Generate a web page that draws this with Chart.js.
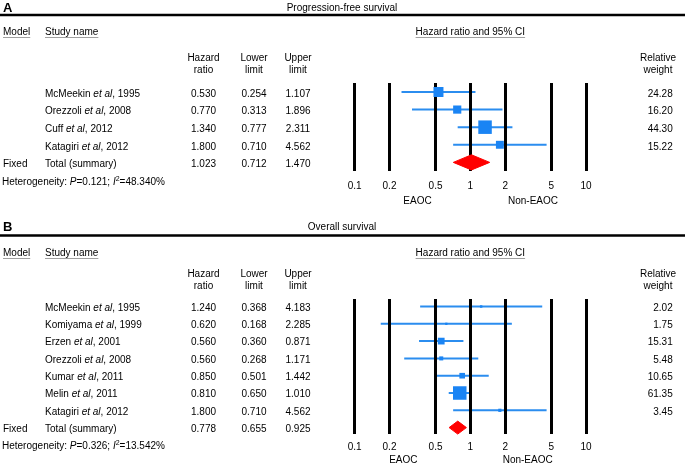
<!DOCTYPE html>
<html>
<head>
<meta charset="utf-8">
<script src="https://cdn.jsdelivr.net/npm/chart.js@4/dist/chart.umd.min.js"></script>
<style>
  html, body { margin: 0; padding: 0; background: #fff; }
  #wrap { position: relative; width: 685px; height: 465px; overflow: hidden; }
  canvas { position: absolute; left: 0; }
  #pfs { top: 0; }
  #os { top: 215px; }
</style>
</head>
<body>
<div id="wrap">
  <canvas id="pfs" width="685" height="215"></canvas>
  <canvas id="os" width="685" height="250"></canvas>
</div>
<script>
const xTicks = [0.1, 0.2, 0.5, 1, 2, 5, 10];

// A: progression-free survival
const pfsStudies = ['McMeekin', 'Orezzoli', 'Cuff', 'Katagiri'];
const pfsYears = [1995, 2008, 2012, 2012];
const pfsHR = [0.530, 0.770, 1.340, 1.800];
const pfsLower = [0.254, 0.313, 0.777, 0.710];
const pfsUpper = [1.107, 1.896, 2.311, 4.562];
const pfsWeight = [24.28, 16.20, 44.30, 15.22];
const pfsTotal = [1.023, 0.712, 1.470];
const pfsHet = ['0.121', '48.340'];

// B: overall survival
const osStudies = ['McMeekin', 'Komiyama', 'Erzen', 'Orezzoli', 'Kumar', 'Melin', 'Katagiri'];
const osYears = [1995, 1999, 2001, 2008, 2011, 2011, 2012];
const osHR = [1.240, 0.620, 0.560, 0.560, 0.850, 0.810, 1.800];
const osLower = [0.368, 0.168, 0.360, 0.268, 0.501, 0.650, 0.710];
const osUpper = [4.183, 2.285, 0.871, 1.171, 1.442, 1.010, 4.562];
const osWeight = [2.02, 1.75, 15.31, 5.48, 10.65, 61.35, 3.45];
const osTotal = [0.778, 0.655, 0.925];
const osHet = ['0.326', '13.542'];

const FONT = '"Liberation Sans", Arial, Helvetica, sans-serif';
const BLUE = '#1a84f4';
const BLUE_LINE = '#2b8def';
const RED = '#ff0000';
const GREY = '#a0a0a0';

// text column positions
const COL_MODEL = 3, COL_NAME = 45, COL_HR = 203.5, COL_LO = 254, COL_HI = 298;
const COL_W = 672.7, COL_W_HEAD = 658;

function partFont(p) {
  if (p.sup) return '7px ' + FONT;
  return (p.it ? 'italic ' : '') + '10px ' + FONT;
}

function drawRich(ctx, parts, x, y, align) {
  let w = 0;
  parts.forEach(p => { ctx.font = partFont(p); w += ctx.measureText(p.t).width; });
  let cx = align === 'center' ? x - w / 2 : align === 'right' ? x - w : x;
  const x0 = cx;
  ctx.textAlign = 'left';
  parts.forEach(p => {
    ctx.font = partFont(p);
    ctx.fillText(p.t, cx, y + (p.sup ? -4 : 0));
    cx += ctx.measureText(p.t).width;
  });
  return { x0, w };
}

function underlined(ctx, text, x, y, align, lineY) {
  const r = drawRich(ctx, [{ t: text }], x, y, align);
  ctx.fillStyle = GREY;
  ctx.fillRect(r.x0, lineY, r.w, 1);
  ctx.fillStyle = '#000';
}

function tablePlugin(p) {
  return {
    id: 'forestTable',
    // CI whiskers sit under the black reference lines, boxes and diamond on top
    afterDatasetDraw(chart, args) {
      if (args.index === 0) chart.scales.x.drawGrid(chart.chartArea);
    },
    afterDraw(chart) {
      const ctx = chart.ctx;
      const xs = chart.scales.x, ys = chart.scales.y;
      const n = p.studies.length;
      ctx.save();
      ctx.fillStyle = '#000';
      ctx.textBaseline = 'alphabetic';

      ctx.font = 'bold 13px ' + FONT;
      ctx.textAlign = 'left';
      ctx.fillText(p.letter, 3, p.letterBase);
      drawRich(ctx, [{ t: p.title }], 342, p.titleBase, 'center');
      ctx.fillRect(0, p.ruleY - 1.25, chart.width, 2.5);

      underlined(ctx, 'Model', COL_MODEL, p.headBase, 'left', p.headBase + 2);
      underlined(ctx, 'Study name', COL_NAME, p.headBase, 'left', p.headBase + 2);
      underlined(ctx, 'Hazard ratio and 95% CI', xs.getPixelForValue(1), p.headBase, 'center', p.headBase + 2);

      [['Hazard', 'ratio', COL_HR], ['Lower', 'limit', COL_LO], ['Upper', 'limit', COL_HI],
       ['Relative', 'weight', COL_W_HEAD]].forEach(([a, b, x]) => {
        drawRich(ctx, [{ t: a }], x, p.colHead1, 'center');
        drawRich(ctx, [{ t: b }], x, p.colHead2, 'center');
      });

      p.studies.forEach((s, i) => {
        const y = ys.getPixelForValue(i) + p.textDy;
        drawRich(ctx, [{ t: s + ' ' }, { t: 'et al', it: true }, { t: ', ' + p.years[i] }], COL_NAME, y, 'left');
        drawRich(ctx, [{ t: p.hr[i].toFixed(3) }], COL_HR, y, 'center');
        drawRich(ctx, [{ t: p.lower[i].toFixed(3) }], COL_LO, y, 'center');
        drawRich(ctx, [{ t: p.upper[i].toFixed(3) }], COL_HI, y, 'center');
        drawRich(ctx, [{ t: p.weight[i].toFixed(2) }], COL_W, y, 'right');
      });

      const ty = ys.getPixelForValue(n) + p.textDy;
      drawRich(ctx, [{ t: 'Fixed' }], COL_MODEL, ty, 'left');
      drawRich(ctx, [{ t: 'Total (summary)' }], COL_NAME, ty, 'left');
      drawRich(ctx, [{ t: p.total[0].toFixed(3) }], COL_HR, ty, 'center');
      drawRich(ctx, [{ t: p.total[1].toFixed(3) }], COL_LO, ty, 'center');
      drawRich(ctx, [{ t: p.total[2].toFixed(3) }], COL_HI, ty, 'center');

      const hy = ys.getPixelForValue(n + 1) + p.textDy;
      drawRich(ctx, [{ t: 'Heterogeneity: ' }, { t: 'P', it: true }, { t: '=' + p.het[0] + '; ' },
        { t: 'I', it: true }, { t: '2', sup: true }, { t: '=' + p.het[1] + '%' }], 2, hy, 'left');

      drawRich(ctx, [{ t: 'EAOC' }], p.eaocX, p.eaocBase, 'center');
      drawRich(ctx, [{ t: 'Non-EAOC' }], p.nonX, p.eaocBase, 'center');
      ctx.restore();
    }
  };
}

function forestChart(canvas, p) {
  const n = p.studies.length;
  const maxW = Math.max(...p.weight);
  const ciSets = p.studies.map((s, i) => ({
    data: [{ x: p.lower[i], y: i }, { x: p.upper[i], y: i }],
    borderColor: BLUE_LINE, borderWidth: 2, pointRadius: 0, fill: false, clip: false, order: 2
  }));
  const boxes = {
    data: p.hr.map((v, i) => ({ x: v, y: i })),
    showLine: false,
    pointStyle: 'rect',
    pointRadius: p.weight.map(w => p.box * Math.sqrt(w / maxW) / Math.SQRT2),
    pointBackgroundColor: BLUE, pointBorderWidth: 0, clip: false, order: 1
  };
  const [t, lo, hi] = p.total;
  const diamondTop = {
    data: [{ x: lo, y: n }, { x: t, y: n - p.dh }, { x: hi, y: n }],
    borderColor: RED, borderWidth: 1, backgroundColor: RED, fill: '+1', pointRadius: 0, tension: 0,
    clip: false, order: 1
  };
  const diamondBottom = {
    data: [{ x: lo, y: n }, { x: t, y: n + p.dh }, { x: hi, y: n }],
    borderColor: RED, borderWidth: 1, pointRadius: 0, fill: false, tension: 0, clip: false, order: 1
  };

  return new Chart(canvas, {
    type: 'line',
    data: { datasets: [...ciSets, boxes, diamondTop, diamondBottom] },
    options: {
      responsive: false,
      animation: false,
      events: [],
      layout: { padding: { left: 354.7, right: 99, top: p.top, bottom: p.bottom } },
      plugins: { legend: { display: false }, tooltip: { enabled: false } },
      scales: {
        x: {
          type: 'logarithmic', min: 0.1, max: 10,
          afterBuildTicks: s => { s.ticks = xTicks.map(v => ({ value: v })); },
          grid: { color: '#000', lineWidth: 3, drawTicks: false },
          border: { display: false },
          ticks: {
            color: '#000', padding: p.tickPad, autoSkip: false, maxRotation: 0,
            font: { family: FONT, size: 10 },
            callback: v => String(v)
          }
        },
        y: { type: 'linear', reverse: true, min: p.yMin, max: p.yMax, display: false }
      }
    },
    plugins: [tablePlugin(p)]
  });
}

forestChart(document.getElementById('pfs'), {
  letter: 'A', title: 'Progression-free survival',
  studies: pfsStudies, years: pfsYears, hr: pfsHR, lower: pfsLower, upper: pfsUpper,
  weight: pfsWeight, total: pfsTotal, het: pfsHet,
  top: 83, bottom: 13, tickPad: 9.5, yMin: -0.51, yMax: 4.49,
  box: 13.5, dh: 0.43,
  letterBase: 11.5, titleBase: 11, ruleY: 15, headBase: 35,
  colHead1: 61, colHead2: 73, textDy: 4.8,
  eaocX: 417.5, nonX: 533, eaocBase: 203.5
});

forestChart(document.getElementById('os'), {
  letter: 'B', title: 'Overall survival',
  studies: osStudies, years: osYears, hr: osHR, lower: osLower, upper: osUpper,
  weight: osWeight, total: osTotal, het: osHet,
  top: 84, bottom: 5.7, tickPad: 6.5, yMin: -0.434, yMax: 7.387,
  box: 13.5, dh: 0.375,
  letterBase: 15.5, titleBase: 15, ruleY: 20.5, headBase: 41,
  colHead1: 62, colHead2: 73.5, textDy: 4.3,
  eaocX: 403.3, nonX: 527.7, eaocBase: 248
});
</script>
</body>
</html>
